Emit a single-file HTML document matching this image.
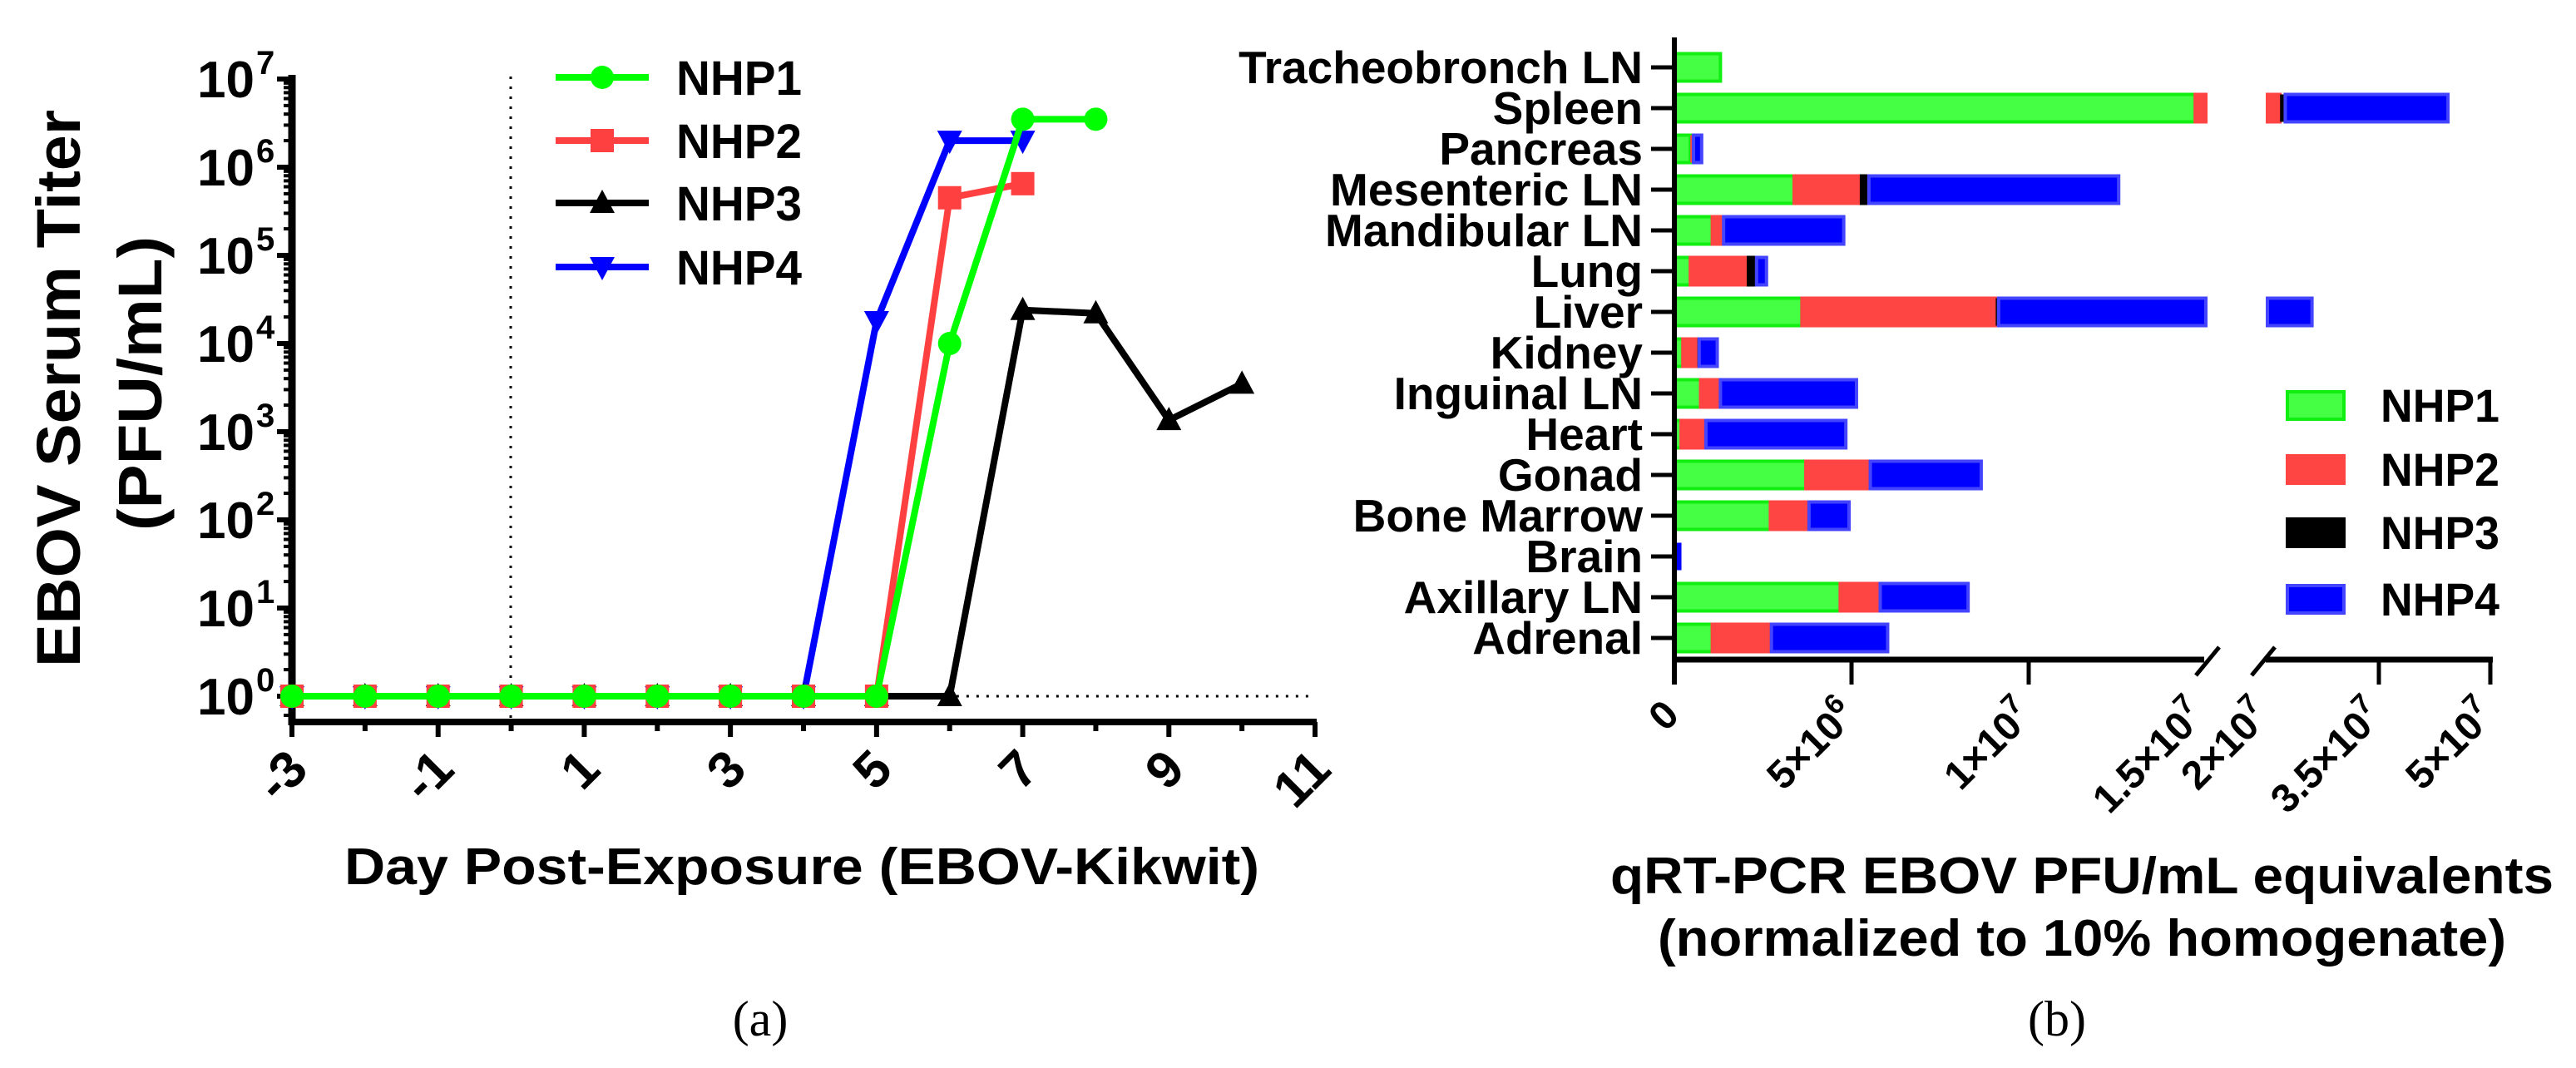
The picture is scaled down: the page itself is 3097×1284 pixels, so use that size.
<!DOCTYPE html>
<html><head><meta charset="utf-8"><style>
html,body{margin:0;padding:0;background:#fff;}
svg{display:block;font-family:"Liberation Sans",Arial,sans-serif;}
.b{font-weight:bold;}
</style></head><body>
<svg id="svg" width="3097" height="1284" viewBox="0 0 3097 1284" xmlns="http://www.w3.org/2000/svg">
<g id="left"></g>
<g id="right"></g>
</svg>
<script>
// ---------- Panel (a) data ----------
const days = [-3,-2,-1,0,1,2,3,4,5,6,7,8,9,10];
const nhp1Days = [-3,-2,-1,0,1,2,3,4,5,6,7,8];
const nhp1Vals = [1,1,1,1,1,1,1,1,1,1e4,3.5e6,3.5e6];
const nhp2Days = [-3,-2,-1,0,1,2,3,4,5,6,7];
const nhp2Vals = [1,1,1,1,1,1,1,1,1,4.5e5,6.5e5];
const nhp3Days = [-3,-2,-1,0,1,2,3,4,5,6,7,8,9,10];
const nhp3Vals = [1,1,1,1,1,1,1,1,1,1,2.4e4,2.2e4,1.35e3,3.5e3];
const nhp4Days = [-3,-2,-1,0,1,2,3,4,5,6,7];
const nhp4Vals = [1,1,1,1,1,1,1,1,1.8e4,2e6,2e6];
const xTickLabels = ["-3","-1","1","3","5","7","9","11"];
const yTickExps = [0,1,2,3,4,5,6,7];

// ---------- Panel (b) data ----------
const organs = ["Tracheobronch LN","Spleen","Pancreas","Mesenteric LN","Mandibular LN","Lung","Liver","Kidney","Inguinal LN","Heart","Gonad","Bone Marrow","Brain","Axillary LN","Adrenal"];
const bNhp1 = [1.30,14.7,0.45,3.38,1.07,0.45,3.6,0.24,0.74,0.19,3.71,2.71,0.03,4.68,1.07];
const bNhp2 = [0,7.0,0.07,1.90,0.32,1.64,5.47,0.41,0.56,0.70,1.82,1.09,0.02,1.13,1.67];
const bNhp3 = [0,0.7,0.02,0.21,0,0.23,0.08,0.05,0,0,0,0,0,0,0];
const bNhp4 = [0,21.9,0.23,7.05,3.39,0.28,16.85,0.51,3.84,3.95,3.13,1.13,0.15,2.48,3.28];
const bTickVals = [0,5,10,15,20,35,50];
const bTickLabels = [["0",""],["5×10","6"],["1×10","7"],["1.5×10","7"],["2×10","7"],["3.5×10","7"],["5×10","7"]];

const NS="http://www.w3.org/2000/svg";
function mk(parent,tag,attrs,text){const e=document.createElementNS(NS,tag);for(const k in attrs)e.setAttribute(k,attrs[k]);if(text!==undefined)e.textContent=text;parent.appendChild(e);return e;}

// ===== Panel (a) =====
const L=document.getElementById('left');
const X0=351, DX=(1581-351)/14, Y0=837, DEC=(837-95)/7;
const xA=d=>X0+(d+3)*DX;
const yA=v=>Y0-Math.log10(v)*DEC;

let e;
e=mk(L,'line',{x1:614,y1:92,x2:614,y2:868,stroke:'#000','stroke-width':3,'stroke-dasharray':'3 9'});


e=mk(L,'line',{x1:xA(5),y1:Y0,x2:1581,y2:Y0,stroke:'#000','stroke-width':3,'stroke-dasharray':'3 9'});


e=mk(L,'line',{x1:X0,y1:90,x2:X0,y2:872,stroke:'#000','stroke-width':9});


e=mk(L,'line',{x1:X0-4,y1:868,x2:1583,y2:868,stroke:'#000','stroke-width':8});


yTickExps.forEach(p=>{
  const y=yA(Math.pow(10,p));
  mk(L,'line',{x1:X0-18,y1:y,x2:X0,y2:y,stroke:'#000','stroke-width':6});
  if(p<7){for(let m=2;m<10;m++){const ym=yA(m*Math.pow(10,p));mk(L,'line',{x1:X0-10,y1:ym,x2:X0,y2:ym,stroke:'#000','stroke-width':4});}}
  const t=mk(L,'text',{x:306,y:y+22,'text-anchor':'end','font-size':62,class:'b'},'10');
  
  
  mk(L,'text',{x:308,y:y-6,'font-size':40,class:'b'},String(p));
});
mk(L,'line',{x1:X0-10,y1:860,x2:X0,y2:860,stroke:'#000','stroke-width':4});
days.concat([11]).forEach(d=>{
  const x=xA(d);const major=(d%2!==0);
  mk(L,'line',{x1:x,y1:868,x2:x,y2:major?886:879,stroke:'#000','stroke-width':6});
});
xTickLabels.forEach(s=>{
  const x=xA(parseInt(s));
  const t=mk(L,'text',{transform:`translate(${x+22},${928}) rotate(-45)`,'text-anchor':'end','font-size':62,class:'b'},s);
  
  
});
e=mk(L,'text',{transform:'translate(96,467) rotate(-90)','text-anchor':'middle','font-size':74,class:'b',textLength:670,lengthAdjust:'spacingAndGlyphs'},'EBOV Serum Titer');


e=mk(L,'text',{transform:'translate(194,461) rotate(-90)','text-anchor':'middle','font-size':74,class:'b',textLength:354,lengthAdjust:'spacingAndGlyphs'},'(PFU/mL)');


e=mk(L,'text',{x:964,y:1063,'text-anchor':'middle','font-size':62,class:'b',textLength:1100,lengthAdjust:'spacingAndGlyphs'},'Day Post-Exposure (EBOV-Kikwit)');


e=mk(L,'text',{x:914,y:1245,'text-anchor':'middle','font-size':60,'font-family':'Liberation Serif, serif'},'(a)');



function marker(g,shape,cx,cy,col){
  if(shape==='circle')return mk(g,'circle',{cx,cy,r:14,fill:col});
  if(shape==='square')return mk(g,'rect',{x:cx-14,y:cy-14,width:28,height:28,fill:col});
  if(shape==='up')return mk(g,'polygon',{points:`${cx},${cy-16} ${cx+15},${cy+12} ${cx-15},${cy+12}`,fill:col});
  return mk(g,'polygon',{points:`${cx},${cy+16} ${cx+15},${cy-12} ${cx-15},${cy-12}`,fill:col});
}
const seriesA=[
 {name:'NHP4',d:nhp4Days,v:nhp4Vals,col:'#0000ff',shape:'down'},
 {name:'NHP3',d:nhp3Days,v:nhp3Vals,col:'#000000',shape:'up'},
 {name:'NHP2',d:nhp2Days,v:nhp2Vals,col:'#ff4040',shape:'square'},
 {name:'NHP1',d:nhp1Days,v:nhp1Vals,col:'#00ff00',shape:'circle'}];
seriesA.forEach(s=>{
  const g=mk(L,'g',{});
  
  
  const pts=s.d.map((d,i)=>xA(d)+','+yA(s.v[i])).join(' ');
  mk(g,'polyline',{points:pts,fill:'none',stroke:s.col,'stroke-width':8,'stroke-linejoin':'round'});
  s.d.forEach((d,i)=>{const m=marker(g,s.shape,xA(d),yA(s.v[i]),s.col);
    
    });
});
const legA=[['NHP1','#00ff00','circle'],['NHP2','#ff4040','square'],['NHP3','#000000','up'],['NHP4','#0000ff','down']];
const legY=[93,169,244,321];
legA.forEach((l,i)=>{
  const g=mk(L,'g',{});
  
  
  mk(g,'line',{x1:668,y1:legY[i],x2:780,y2:legY[i],stroke:l[1],'stroke-width':8});
  marker(g,l[2],724,legY[i],l[1]);
  mk(g,'text',{x:813,y:legY[i]+21,'font-size':58,class:'b',textLength:151,lengthAdjust:'spacingAndGlyphs'},l[0]);
});

// ===== Panel (b) =====
const R=document.getElementById('right');
const BX0=2013, S1=(2439-2013)/10, SEG2=2726, S2=(2994-2726)/30;
const Y1=81, DY=(767-81)/14, BH=33;
function segs(a,b){
  const out=[];
  const a1=Math.max(a,0), b1=Math.min(b,15);
  if(b1>a1) out.push([BX0+a1*S1,BX0+b1*S1]);
  const a2=Math.max(a,20), b2=Math.min(b,50);
  if(b2>a2) out.push([SEG2+(a2-20)*S2,SEG2+(b2-20)*S2]);
  return out;
}
const seriesB=[
 {name:'NHP1',v:bNhp1,fill:'#44ff44',stroke:'#11ee11'},
 {name:'NHP2',v:bNhp2,fill:'#ff4444',stroke:'#ff4444'},
 {name:'NHP3',v:bNhp3,fill:'#000000',stroke:'#000000'},
 {name:'NHP4',v:bNhp4,fill:'#0000ff',stroke:'#4444ff'}];
organs.forEach((o,i)=>{
  const yc=Y1+i*DY;
  const t=mk(R,'text',{x:1975,y:yc+19,'text-anchor':'end','font-size':55,class:'b'},o);
  
  
  mk(R,'line',{x1:1985,y1:yc,x2:BX0,y2:yc,stroke:'#000','stroke-width':5});
  let cum=0;
  seriesB.forEach(s=>{
    const v=s.v[i]; if(v<=0)return;
    segs(cum,cum+v).forEach(p=>{
      const w=Math.max(p[1]-p[0],1.5);
      const r=mk(R,'rect',{x:p[0],y:yc-BH/2,width:w,height:BH,fill:s.fill,stroke:s.stroke,'stroke-width':w>8?4:0});
      
      
    });
    cum+=v;
  });
});
e=mk(R,'line',{x1:BX0,y1:45,x2:BX0,y2:823,stroke:'#000','stroke-width':6});


e=mk(R,'line',{x1:BX0,y1:793,x2:2650,y2:793,stroke:'#000','stroke-width':7});


e=mk(R,'line',{x1:2724,y1:793,x2:2997,y2:793,stroke:'#000','stroke-width':7});


mk(R,'line',{x1:2640,y1:812,x2:2668,y2:778,stroke:'#000','stroke-width':5});
mk(R,'line',{x1:2707,y1:812,x2:2735,y2:778,stroke:'#000','stroke-width':5});
bTickVals.forEach((v,i)=>{
  const x=v<=15?BX0+v*S1:SEG2+(v-20)*S2;
  if(v!==15 && v!==20) mk(R,'line',{x1:x,y1:793,x2:x,y2:823,stroke:'#000','stroke-width':5});
  const ax=(v===15)?x-6:(v===20?x-2:x);
  const t=mk(R,'text',{transform:`translate(${ax+8},${862}) rotate(-45)`,'text-anchor':'end','font-size':48,class:'b'});
  
  
  mk(t,'tspan',{},bTickLabels[i][0]);
  if(bTickLabels[i][1]) mk(t,'tspan',{dy:-20,'font-size':34},bTickLabels[i][1]);
});
const legB=[['NHP1','#44ff44','#11ee11'],['NHP2','#ff4444','#ff4444'],['NHP3','#000','#000'],['NHP4','#0000ff','#4444ff']];
const legBY=[487,564,640,720];
legB.forEach((l,i)=>{
  const g=mk(R,'g',{});
  
  
  mk(g,'rect',{x:2750,y:legBY[i]-16,width:68,height:33,fill:l[1],stroke:l[2],'stroke-width':4});
  mk(g,'text',{x:2862,y:legBY[i]+20,'font-size':56,class:'b',textLength:143,lengthAdjust:'spacingAndGlyphs'},l[0]);
});
e=mk(R,'text',{x:2503,y:1074,'text-anchor':'middle','font-size':62,class:'b',textLength:1134,lengthAdjust:'spacingAndGlyphs'},'qRT-PCR EBOV PFU/mL equivalents');


e=mk(R,'text',{x:2503,y:1149,'text-anchor':'middle','font-size':62,class:'b',textLength:1020,lengthAdjust:'spacingAndGlyphs'},'(normalized to 10% homogenate)');


e=mk(R,'text',{x:2473,y:1245,'text-anchor':'middle','font-size':60,'font-family':'Liberation Serif, serif'},'(b)');


</script>
</body></html>
